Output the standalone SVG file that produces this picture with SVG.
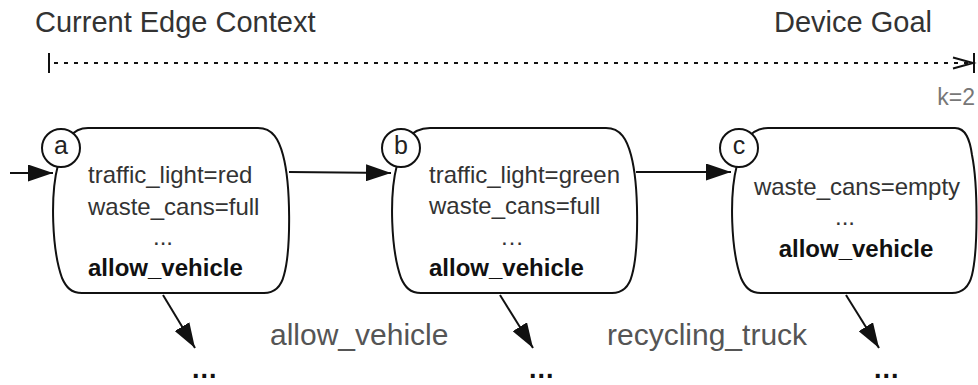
<svg xmlns="http://www.w3.org/2000/svg" width="978" height="385" viewBox="0 0 978 385">
  <defs>
    <style>
      .head { font-family: "Liberation Sans", Arial, sans-serif; font-size: 29px; fill: #333; }
      .k { font-family: "Liberation Sans", Arial, sans-serif; font-size: 23px; fill: #777; }
      .body { font-family: "Liberation Sans", Arial, sans-serif; font-size: 24px; fill: #333; }
      .bold { font-family: "Liberation Sans", Arial, sans-serif; font-size: 24px; font-weight: bold; fill: #111; }
      .lbl { font-family: "Liberation Sans", Arial, sans-serif; font-size: 25px; fill: #222; text-anchor: middle; }
      .edge { font-family: "Liberation Sans", Arial, sans-serif; font-size: 30px; fill: #555; }
      .more { font-family: "Liberation Sans", Arial, sans-serif; font-size: 27px; font-weight: bold; fill: #111; letter-spacing: 1px; }
      .shape { fill: #fff; stroke: #111; stroke-width: 2; }
      .ring { fill: #fff; stroke: #111; stroke-width: 2; }
      .wire { fill: none; stroke: #111; stroke-width: 2; }
      .mid { text-anchor: middle; }
    </style>
    <marker id="head" viewBox="0 0 25 17" refX="25" refY="8.5" markerWidth="25" markerHeight="17" markerUnits="userSpaceOnUse" orient="auto">
      <path d="M0,0 L25,8.5 L0,17 Z" fill="#111"/>
    </marker>
  </defs>

  <!-- horizon bar -->
  <g id="horizon">
    <text class="head" x="35" y="32">Current Edge Context</text>
    <text class="head" x="932" y="32" text-anchor="end">Device Goal</text>
    <line class="wire" x1="49" y1="53" x2="49" y2="73"/>
    <line class="wire" x1="54" y1="63" x2="970" y2="63" stroke-dasharray="4 6"/>
    <polyline class="wire" points="953,57.5 973,63 953,68.5"/>
    <line class="wire" x1="974" y1="53" x2="974" y2="73"/>
    <text class="k" x="975" y="105" text-anchor="end">k=2</text>
  </g>

  <!-- connectors -->
  <g id="connectors">
    <line class="wire" x1="10" y1="173" x2="53" y2="173" marker-end="url(#head)"/>
    <line class="wire" x1="289" y1="172" x2="391" y2="173" marker-end="url(#head)"/>
    <line class="wire" x1="636" y1="172" x2="731" y2="172" marker-end="url(#head)"/>
    <line class="wire" x1="163" y1="295" x2="195" y2="348" marker-end="url(#head)"/>
    <line class="wire" x1="500" y1="295" x2="533" y2="348" marker-end="url(#head)"/>
    <line class="wire" x1="846" y1="295" x2="879" y2="348" marker-end="url(#head)"/>
    <text class="edge" x="270" y="345">allow_vehicle</text>
    <text class="edge" x="607" y="345">recycling_truck</text>
    <text class="more" x="192" y="378">...</text>
    <text class="more" x="529" y="378">...</text>
    <text class="more" x="874" y="378">...</text>
  </g>

  <!-- state a -->
  <g id="node-a">
    <path class="shape" d="M88,128 H258 C273,128 279,140 283,155 C291,185 291,250 284,275 C281,287 275,293 264,293 H82 C71,293 66,287 62,278 C52,250 50,195 58,165 C62,145 70,128 88,128 Z"/>
    <circle class="ring" cx="61" cy="148" r="19"/>
    <text class="lbl" x="61" y="154">a</text>
    <text class="body" x="88" y="183">traffic_light=red</text>
    <text class="body" x="88" y="215">waste_cans=full</text>
    <text class="body mid" x="163" y="245">...</text>
    <text class="bold" x="88" y="276">allow_vehicle</text>
  </g>

  <!-- state b -->
  <g id="node-b">
    <path class="shape" d="M430,128 H606 C621,128 627,140 631,155 C639,185 639,250 632,275 C629,287 623,293 612,293 H421 C410,293 405,287 401,278 C391,250 389,195 397,165 C401,145 409,128 430,128 Z"/>
    <circle class="ring" cx="401" cy="148" r="19"/>
    <text class="lbl" x="401" y="154">b</text>
    <text class="body" x="429" y="183">traffic_light=green</text>
    <text class="body" x="429" y="214">waste_cans=full</text>
    <text class="body mid" x="512" y="245">…</text>
    <text class="bold" x="429" y="276">allow_vehicle</text>
  </g>

  <!-- state c -->
  <g id="node-c">
    <path class="shape" d="M768,128 H955 C966,128 970,140 972,155 C978,185 978,250 972,275 C969,287 963,293 952,293 H761 C750,293 745,287 741,278 C731,250 729,195 737,165 C741,145 749,128 768,128 Z"/>
    <circle class="ring" cx="739" cy="148" r="19"/>
    <text class="lbl" x="739" y="154">c</text>
    <text class="body mid" x="857" y="195">waste_cans=empty</text>
    <text class="body mid" x="845" y="225">...</text>
    <text class="bold mid" x="856" y="257">allow_vehicle</text>
  </g>
</svg>
